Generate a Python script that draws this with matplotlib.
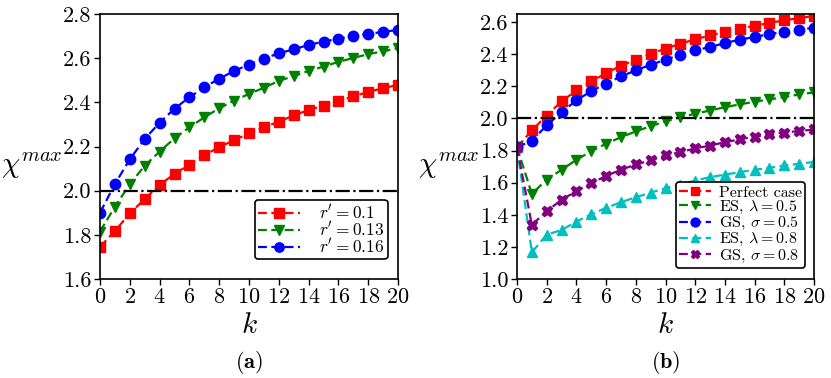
import matplotlib
matplotlib.use("Agg")
import matplotlib.pyplot as plt
import numpy as np

plt.rcParams['font.family'] = 'serif'
plt.rcParams['font.serif'] = ['cmr10']
plt.rcParams['mathtext.fontset'] = 'cm'
plt.rcParams['axes.formatter.use_mathtext'] = True
plt.rcParams['axes.unicode_minus'] = False

k = list(range(21))

# Panel (a)
r_010 = [1.746, 1.817, 1.897, 1.962, 2.026, 2.076, 2.118, 2.160, 2.198, 2.228, 2.260,
         2.288, 2.312, 2.341, 2.365, 2.385, 2.406, 2.427, 2.447, 2.464, 2.479]
r_013 = [1.815, 1.927, 2.029, 2.113, 2.177, 2.237, 2.287, 2.332, 2.373, 2.408, 2.438,
         2.466, 2.497, 2.519, 2.542, 2.562, 2.583, 2.601, 2.618, 2.631, 2.645]
r_016 = [1.900, 2.030, 2.142, 2.234, 2.308, 2.371, 2.423, 2.468, 2.507, 2.542, 2.571,
         2.598, 2.622, 2.640, 2.660, 2.675, 2.688, 2.700, 2.710, 2.719, 2.728]
labels_a = [r"$r' = 0.1$", r"$r' = 0.13$", r"$r' = 0.16$"]

# Panel (b)
perfect = [1.82, 1.925, 2.018, 2.106, 2.174, 2.230, 2.282, 2.328, 2.365, 2.403, 2.434,
           2.465, 2.492, 2.517, 2.538, 2.559, 2.577, 2.594, 2.611, 2.625, 2.638]
es_05 = [1.82, 1.530, 1.619, 1.680, 1.742, 1.796, 1.842, 1.883, 1.919, 1.952, 1.981,
         2.008, 2.029, 2.049, 2.070, 2.087, 2.104, 2.118, 2.133, 2.149, 2.162]
gs_05 = [1.82, 1.862, 1.956, 2.039, 2.112, 2.170, 2.216, 2.261, 2.299, 2.334, 2.365,
         2.397, 2.424, 2.444, 2.469, 2.490, 2.507, 2.525, 2.538, 2.552, 2.565]
es_08 = [1.82, 1.166, 1.276, 1.305, 1.357, 1.403, 1.443, 1.478, 1.509, 1.538, 1.565,
         1.588, 1.613, 1.634, 1.650, 1.665, 1.680, 1.692, 1.707, 1.717, 1.729]
gs_08 = [1.82, 1.337, 1.422, 1.493, 1.547, 1.596, 1.642, 1.680, 1.713, 1.738, 1.769,
         1.790, 1.813, 1.831, 1.852, 1.869, 1.887, 1.900, 1.912, 1.921, 1.931]
labels_b = ['Perfect case', r'ES, $\lambda = 0.5$', r'GS, $\sigma = 0.5$',
            r'ES, $\lambda = 0.8$', r'GS, $\sigma = 0.8$']

fig = plt.figure(figsize=(8.31, 3.78), dpi=100)
axa = fig.add_axes([100/831, 1-279/378, 298/831, 265/378])
axb = fig.add_axes([517/831, 1-279/378, 297/831, 265/378])

ms = 7.5
lw = 1.6
dash = (0, (4, 2))
axa.plot(k, r_010, ls=dash, color='red', marker='s', ms=ms, lw=lw, label=labels_a[0])
axa.plot(k, r_013, ls=dash, color='green', marker='v', ms=ms, lw=lw, label=labels_a[1])
axa.plot(k, r_016, ls=dash, color='blue', marker='o', ms=ms, lw=lw, label=labels_a[2])
axa.axhline(2.0, color='black', ls='-.', lw=1.6)
axa.set_xlim(0, 20)
axa.set_ylim(1.6, 2.8)
axa.set_xticks(range(0, 21, 2))
axa.set_yticks(np.arange(1.6, 2.81, 0.2))

axb.plot(k, perfect, ls=dash, color='red', marker='s', ms=ms, lw=lw, label=labels_b[0])
axb.plot(k, es_05, ls=dash, color='green', marker='v', ms=ms, lw=lw, label=labels_b[1])
axb.plot(k, gs_05, ls=dash, color='blue', marker='o', ms=ms, lw=lw, label=labels_b[2])
axb.plot(k, es_08, ls=dash, color='c', marker='^', ms=ms, lw=lw, label=labels_b[3])
axb.plot(k, gs_08, ls=dash, color='purple', marker='X', ms=ms, lw=lw, label=labels_b[4])
axb.axhline(2.0, color='black', ls='-.', lw=1.6)
axb.set_xlim(0, 20)
axb.set_ylim(1.0, 2.65)
axb.set_xticks(range(0, 21, 2))
axb.set_yticks(np.arange(1.0, 2.61, 0.2))

for ax, tag in ((axa, r'$\mathbf{(a)}$'), (axb, r'$\mathbf{(b)}$')):
    ax.tick_params(labelsize=16, direction='out', length=4, width=1, pad=2)
    ax.set_yticklabels([f'{v:.1f}' for v in ax.get_yticks()])
    for s in ax.spines.values():
        s.set_linewidth(1.2)
    ax.set_xlabel('$k$', fontsize=21, labelpad=4)
    ax.set_ylabel(r'$\chi^{max}$', fontsize=21, rotation=0, labelpad=2)
    ax.yaxis.set_label_coords(-0.23, 0.37)
    ax.text(0.5, -0.265, tag, transform=ax.transAxes, ha='center', va='top',
            fontsize=16)

axa.legend(loc='lower right', fontsize=12.5, handlelength=2.4, frameon=True,
           edgecolor='black', fancybox=True, framealpha=1, borderpad=0.2,
           labelspacing=-0.1, handletextpad=1.1, markerscale=0.9,
           borderaxespad=0.0,
           bbox_to_anchor=(0.966, 0.075)).get_frame().set_linewidth(1.2)
axb.legend(loc='lower right', fontsize=11.5, handlelength=2.0, frameon=True,
           edgecolor='black', fancybox=True, framealpha=1, borderpad=0.2,
           labelspacing=-0.05, handletextpad=0.5, markerscale=0.85,
           borderaxespad=0.0,
           bbox_to_anchor=(0.97, 0.042)).get_frame().set_linewidth(1.2)

fig.savefig('out.png', dpi=100)
